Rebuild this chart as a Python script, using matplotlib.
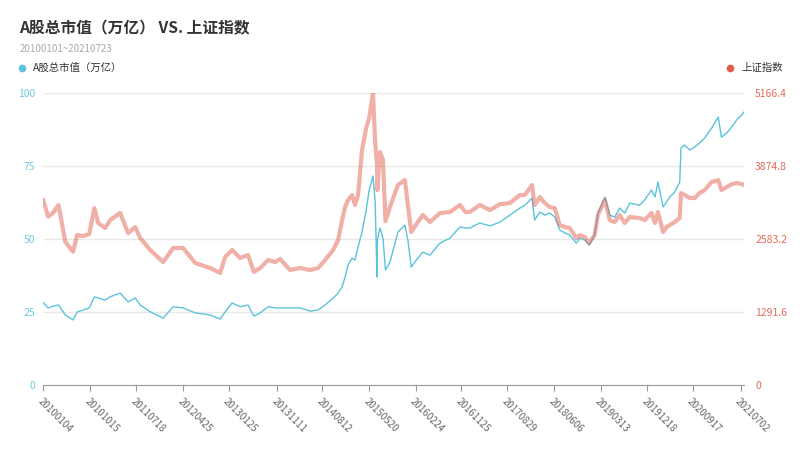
import matplotlib
matplotlib.use("Agg")
import matplotlib.pyplot as plt
from datetime import datetime

plt.rcParams['font.family'] = ['Noto Sans CJK SC', 'DejaVu Sans']

title = "A股总市值（万亿） VS. 上证指数"
subtitle = "20100101~20210723"
name_cap = "A股总市值（万亿）"
name_sse = "上证指数"

dates = [
    "2010-01-04", "2010-02-03", "2010-03-05", "2010-04-06", "2010-05-17", "2010-07-02",
    "2010-07-28", "2010-09-02", "2010-10-08", "2010-11-08", "2010-12-01", "2011-01-12",
    "2011-02-11", "2011-04-12", "2011-05-30", "2011-07-12", "2011-08-11", "2011-10-10",
    "2011-12-27", "2012-02-25", "2012-04-25", "2012-07-07", "2012-10-05", "2012-12-04",
    "2013-01-03", "2013-02-14", "2013-04-03", "2013-05-21", "2013-06-25", "2013-08-02",
    "2013-09-19", "2013-10-31", "2013-11-30", "2014-01-29", "2014-03-30", "2014-05-30",
    "2014-07-17", "2014-08-28", "2014-10-15", "2014-11-14", "2014-12-08", "2014-12-26",
    "2015-01-13", "2015-02-06", "2015-02-24", "2015-03-14", "2015-04-07", "2015-05-02",
    "2015-05-20", "2015-06-12", "2015-06-25", "2015-07-06", "2015-07-08", "2015-07-24",
    "2015-08-11", "2015-08-26", "2015-09-22", "2015-11-09", "2015-12-21", "2016-01-08",
    "2016-01-28", "2016-03-08", "2016-04-07", "2016-05-20", "2016-07-19", "2016-09-17",
    "2016-11-16", "2016-12-20", "2017-01-15", "2017-03-16", "2017-05-16", "2017-07-15",
    "2017-09-13", "2017-11-12", "2017-12-12", "2018-01-24", "2018-02-09", "2018-03-12",
    "2018-04-11", "2018-05-11", "2018-06-10", "2018-07-10", "2018-08-09", "2018-09-08",
    "2018-10-18", "2018-11-07", "2018-12-07", "2019-01-03", "2019-02-05", "2019-02-25",
    "2019-04-08", "2019-05-07", "2019-06-06", "2019-07-06", "2019-08-05", "2019-09-04",
    "2019-11-03", "2019-12-03", "2020-01-13", "2020-02-03", "2020-02-21", "2020-03-23",
    "2020-04-13", "2020-05-02", "2020-06-01", "2020-07-01", "2020-07-09", "2020-07-31",
    "2020-08-30", "2020-09-29", "2020-10-29", "2020-11-28", "2021-01-09", "2021-02-18",
    "2021-03-09", "2021-04-10", "2021-05-10", "2021-06-09", "2021-07-09", "2021-07-23",
]

market_cap = [
    28.2, 26.4, 27.0, 27.4, 24.0, 22.3,
    25.0, 25.7, 26.4, 30.2, 29.8, 29.1,
    30.2, 31.5, 28.5, 29.8, 27.4, 25.1,
    22.9, 26.8, 26.4, 24.7, 24.0, 22.6,
    25.0, 28.1, 26.8, 27.4, 23.6, 24.7,
    26.8, 26.4, 26.4, 26.4, 26.4, 25.3,
    25.7, 27.4, 29.8, 31.5, 33.6, 37.0,
    41.1, 43.5, 42.8, 47.3, 52.4, 59.9,
    66.8, 71.6, 62.7, 37.0, 49.7, 53.8,
    50.3, 39.4, 42.1, 52.4, 54.8, 49.7,
    40.4, 43.5, 45.5, 44.5, 48.6, 50.3,
    54.1, 53.8, 53.8, 55.5, 54.5, 55.8,
    58.2, 60.6, 61.6, 64.0, 56.5, 59.2,
    58.2, 58.9, 57.5, 53.1, 52.1, 51.4,
    48.6, 50.3, 49.7, 47.9, 51.4, 58.9,
    64.4, 58.2, 57.5, 60.6, 58.9, 62.3,
    61.6, 63.4, 66.8, 64.4, 69.5, 61.0,
    62.7, 64.4, 66.1, 69.5, 81.2, 82.2,
    80.5, 81.5, 82.9, 84.6, 88.0, 91.8,
    84.9, 86.3, 88.4, 90.8, 92.5, 93.5,
]

sse_index = [
    3273, 2978, 3050, 3185, 2535, 2358,
    2654, 2636, 2670, 3131, 2866, 2778,
    2919, 3043, 2689, 2795, 2601, 2389,
    2176, 2424, 2424, 2159, 2070, 1982,
    2265, 2389, 2247, 2300, 2000, 2070,
    2212, 2176, 2229, 2035, 2070, 2035,
    2070, 2212, 2389, 2565, 2919, 3149,
    3273, 3362, 3185, 3362, 4158, 4547,
    4724, 5166, 4299, 3892, 3450, 4123,
    3981, 2900, 3150, 3539, 3627, 3185,
    2707, 2884, 3008, 2884, 3043, 3061,
    3185, 3061, 3061, 3185, 3096, 3200,
    3220, 3362, 3362, 3539, 3185, 3326,
    3220, 3149, 3131, 2831, 2795, 2778,
    2601, 2654, 2619, 2512, 2654, 3008,
    3273, 2919, 2884, 3008, 2866, 2972,
    2955, 2919, 3043, 2866, 3061, 2707,
    2795, 2831, 2884, 2955, 3397, 3362,
    3309, 3309, 3397, 3450, 3592, 3627,
    3450, 3503, 3556, 3574, 3556, 3539,
]

tick_labels = ["20100104", "20101015", "20110718", "20120425", "20130125", "20131111",
               "20140812", "20150520", "20160224", "20161125", "20170829", "20180606",
               "20190313", "20191218", "20200917", "20210702"]

left_ticks = [0, 25, 50, 75, 100]
right_ticks = [0, 1291.6, 2583.2, 3874.8, 5166.4]
right_tick_labels = ["0", "1291.6", "2583.2", "3874.8", "5166.4"]

c_cap = "#5bc3dc"
c_sse = "#e25a48"

x = [datetime.strptime(d, "%Y-%m-%d") for d in dates]
xt = [datetime.strptime(t, "%Y%m%d") for t in tick_labels]

fig = plt.figure(figsize=(8, 4.54), dpi=100)
ax = fig.add_axes([0.054, 0.152, 0.876, 0.643])
ax2 = ax.twinx()

ax.plot(x, market_cap, color=c_cap, lw=1.0)
ax2.plot(x, sse_index, color=c_sse, lw=3.0, alpha=0.48, solid_joinstyle='round')

ax.set_ylim(0, 100)
ax2.set_ylim(0, 5166.4)
ax.set_xlim(x[0], x[-1])

ax.set_yticks(left_ticks)
ax.set_yticklabels([str(v) for v in left_ticks])
ax2.set_yticks(right_ticks)
ax2.set_yticklabels(right_tick_labels)

ax.grid(axis='y', color='#e8e8e8', lw=1)
ax.set_axisbelow(True)

for a in (ax, ax2):
    for s in ('top', 'left', 'right'):
        a.spines[s].set_visible(False)
    a.spines['bottom'].set_color('#999999')
ax2.spines['bottom'].set_visible(False)

ax.tick_params(axis='y', length=0, pad=6, labelsize=7.5, labelcolor='#6ccbe3')
ax2.tick_params(axis='y', length=0, pad=8, labelsize=7.5, labelcolor='#e66a5a')

ax.set_xticks(xt)
ax.set_xticklabels(tick_labels, rotation=-45, ha='left', va='top', rotation_mode='anchor')
ax.tick_params(axis='x', length=4, color='#999999', labelsize=7, labelcolor='#666666', pad=4)

fig.text(0.024, 0.938, title, fontsize=11.3, fontweight='bold', color='#333333', va='center', ha='left')
fig.text(0.025, 0.892, subtitle, fontsize=7, color='#aaaaaa', va='center', ha='left')

fig.lines.append(plt.Line2D([0.0275], [0.851], marker='o', ms=4.5, color=c_cap, transform=fig.transFigure, ls='none'))
fig.text(0.041, 0.851, name_cap, fontsize=7.5, color='#333333', va='center', ha='left')
fig.lines.append(plt.Line2D([0.913], [0.851], marker='o', ms=4.5, color=c_sse, transform=fig.transFigure, ls='none'))
fig.text(0.927, 0.851, name_sse, fontsize=7.5, color='#333333', va='center', ha='left')

fig.savefig("out.png", dpi=100, facecolor='white')
